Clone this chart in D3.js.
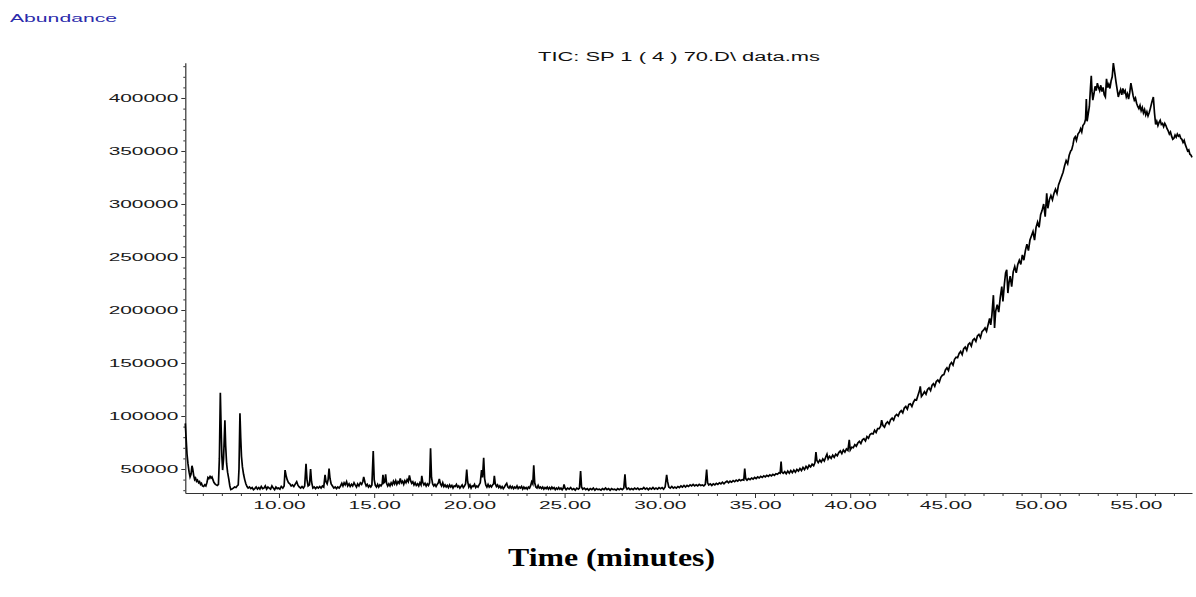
<!DOCTYPE html>
<html>
<head>
<meta charset="utf-8">
<script src="https://cdn.jsdelivr.net/npm/d3@7"></script>
<style>
  html, body { margin: 0; padding: 0; background: #fff; }
  svg { display: block; }
</style>
</head>
<body>
<svg id="chart" width="1196" height="597"></svg>
<script>
// ---------- DATA (time in minutes, abundance counts) ----------
const titleText = "TIC: SP 1 ( 4 ) 70.D\\ data.ms";
const yAxisTitle = "Abundance";
const xAxisTitle = "Time (minutes)";

const yMajorTicks = [50000, 100000, 150000, 200000, 250000, 300000, 350000, 400000];
const yMinorTicks = [30000, 40000, 60000, 70000, 80000, 90000, 110000, 120000, 130000, 140000,
  160000, 170000, 180000, 190000, 210000, 220000, 230000, 240000, 260000, 270000, 280000, 290000,
  310000, 320000, 330000, 340000, 360000, 370000, 380000, 390000, 410000, 420000, 430000];
const xMajorTicks = [10, 15, 20, 25, 30, 35, 40, 45, 50, 55];
const xMinorTicks = [6, 7, 8, 9, 11, 12, 13, 14, 16, 17, 18, 19, 21, 22, 23, 24, 26, 27, 28, 29,
  31, 32, 33, 34, 36, 37, 38, 39, 41, 42, 43, 44, 46, 47, 48, 49, 51, 52, 53, 54, 56, 57];

const earlySegment = [
  [5.08, 93000], [5.12, 80000], [5.17, 64000], [5.22, 55000], [5.28, 47000], [5.33, 42500],
  [5.38, 45000], [5.43, 53000], [5.47, 50000], [5.52, 44000], [5.57, 40000], [5.62, 41500],
  [5.67, 38500], [5.72, 39500], [5.78, 37000], [5.83, 38000], [5.88, 35500], [5.93, 36500],
  [5.98, 34000], [6.04, 33500], [6.10, 35000], [6.16, 34000], [6.22, 37500], [6.27, 42000],
  [6.32, 41000], [6.38, 43000], [6.43, 41500], [6.48, 42500], [6.53, 40000], [6.58, 37500],
  [6.64, 36000], [6.70, 35000], [6.76, 34500], [6.82, 35500], [6.87, 60000], [6.92, 122000],
  [6.96, 90000], [7.00, 62000], [7.04, 49000], [7.09, 60000], [7.16, 96000], [7.20, 72000],
  [7.25, 55000], [7.30, 47000], [7.36, 41000], [7.42, 34000], [7.47, 30500], [7.53, 31000],
  [7.60, 32000], [7.67, 33000], [7.74, 32500], [7.80, 34000], [7.86, 35000], [7.90, 50000],
  [7.95, 102500], [7.99, 80000], [8.03, 62000], [8.08, 52000], [8.14, 45000], [8.20, 40000],
  [8.26, 36000], [8.32, 33500], [8.38, 32000], [8.45, 33000], [8.52, 31500], [8.59, 32500],
  [8.66, 30500], [8.73, 31500], [8.80, 33000], [8.87, 31000], [8.94, 32500], [9.00, 31000],
  [9.07, 33500], [9.14, 31500], [9.21, 32000], [9.28, 34000], [9.35, 31000], [9.42, 33000],
  [9.49, 32000], [9.56, 31000], [9.63, 34000], [9.70, 32000], [9.77, 30500], [9.84, 33000],
  [9.91, 31500], [9.98, 32000], [10.05, 31000], [10.12, 33500], [10.20, 32000], [10.27, 34000],
  [10.32, 49000], [10.37, 44000], [10.43, 40000], [10.50, 37000], [10.57, 36000], [10.64, 34000],
  [10.71, 35000], [10.78, 33500], [10.86, 36000], [10.93, 38000], [11.00, 34500], [11.07, 33000],
  [11.14, 32000], [11.21, 33500], [11.28, 32000], [11.35, 34000], [11.42, 55000], [11.47, 40000],
  [11.53, 34000], [11.60, 35000], [11.66, 50000], [11.71, 38000], [11.78, 32000], [11.85, 33000],
  [11.92, 31500], [12.00, 33000]
];

const middleSegment = [
  [12.07, 32000], [12.14, 33500], [12.21, 32000], [12.28, 34000], [12.35, 33000], [12.42, 44500],
  [12.47, 38000], [12.53, 36000], [12.58, 40000], [12.63, 50500], [12.68, 41000], [12.74, 36000],
  [12.81, 34000], [12.88, 32000], [12.95, 33000], [13.02, 31500], [13.09, 33000], [13.16, 32000],
  [13.23, 34000], [13.30, 36500], [13.36, 34000], [13.42, 37000], [13.48, 35000], [13.55, 38000],
  [13.61, 34000], [13.68, 36000], [13.74, 33500], [13.81, 35500], [13.87, 34000], [13.94, 37000],
  [14.00, 35000], [14.07, 33000], [14.13, 36000], [14.20, 34000], [14.27, 37000], [14.34, 35500],
  [14.40, 38000], [14.45, 42500], [14.52, 37000], [14.58, 34000], [14.64, 35500], [14.70, 33000],
  [14.76, 34500], [14.82, 33000], [14.88, 35000], [14.95, 67000], [15.00, 40000], [15.06, 34500],
  [15.12, 33000], [15.18, 35500], [15.24, 33000], [15.30, 35000], [15.36, 34000], [15.42, 36000],
  [15.46, 44500], [15.51, 37000], [15.56, 38000], [15.60, 45000], [15.65, 36500], [15.71, 34000],
  [15.77, 36000], [15.83, 34000], [15.89, 37000], [15.95, 35000], [16.01, 38500], [16.07, 36000],
  [16.13, 39000], [16.19, 35500], [16.25, 38000], [16.31, 36500], [16.37, 41000], [16.43, 37000],
  [16.49, 38500], [16.55, 35500], [16.61, 39000], [16.67, 37000], [16.73, 40000], [16.79, 38000],
  [16.85, 44000], [16.91, 39000], [16.97, 36500], [17.03, 38000], [17.09, 35000], [17.15, 37000],
  [17.21, 34500], [17.28, 36000], [17.34, 34000], [17.40, 37000], [17.46, 35000], [17.50, 43500],
  [17.55, 37500], [17.61, 35000], [17.67, 36500], [17.73, 34000], [17.79, 36000], [17.85, 34500],
  [17.91, 37000], [17.96, 69500], [18.01, 42000], [18.07, 36000], [18.13, 34000], [18.19, 35500],
  [18.25, 33500], [18.31, 35500], [18.37, 37000], [18.42, 40500], [18.48, 36000], [18.54, 34000],
  [18.60, 37000], [18.66, 33500], [18.72, 35000], [18.78, 33000], [18.84, 34500], [18.90, 32500],
  [18.96, 35000], [19.02, 33000], [19.08, 34500], [19.14, 32000], [19.20, 34000], [19.26, 33500],
  [19.32, 35500], [19.38, 33000], [19.44, 34000], [19.50, 32000], [19.56, 33500], [19.62, 35000],
  [19.68, 32500], [19.74, 34000], [19.80, 36000], [19.86, 49500], [19.91, 38000], [19.97, 33000],
  [20.03, 35000], [20.09, 32000], [20.15, 34000], [20.21, 33500], [20.27, 35500], [20.33, 32500],
  [20.39, 34000], [20.45, 33000], [20.51, 35000], [20.57, 37000], [20.64, 49000], [20.69, 42000],
  [20.75, 60500], [20.80, 41000], [20.86, 35000], [20.92, 33000], [20.98, 35500], [21.04, 33000],
  [21.10, 34500], [21.16, 33000], [21.22, 35000], [21.27, 36000], [21.31, 43500], [21.36, 36000],
  [21.42, 33500], [21.48, 35000], [21.54, 32500], [21.60, 34000], [21.66, 32000], [21.72, 33500],
  [21.78, 31500], [21.84, 33000], [21.90, 35000], [21.96, 36500], [22.02, 33000], [22.08, 32000],
  [22.14, 34000], [22.20, 32000], [22.26, 33500], [22.32, 31500], [22.38, 33000], [22.44, 32000],
  [22.50, 34000], [22.56, 31500], [22.62, 33000], [22.68, 32000], [22.74, 33500], [22.80, 31000],
  [22.86, 33000], [22.92, 31500], [22.98, 32500], [23.04, 31000], [23.10, 33000], [23.16, 32000],
  [23.22, 34500], [23.27, 38000], [23.33, 36000], [23.38, 53500], [23.43, 37000], [23.49, 33000],
  [23.55, 32000], [23.61, 34500], [23.67, 32000], [23.73, 33000], [23.79, 31500], [23.85, 33000],
  [23.91, 31000], [23.97, 32500], [24.03, 31500], [24.09, 33000], [24.15, 31000], [24.21, 32500],
  [24.27, 31000], [24.33, 33000], [24.39, 31500], [24.45, 32500], [24.51, 30500], [24.57, 32000],
  [24.63, 31000], [24.69, 32500], [24.75, 31000], [24.81, 32000], [24.87, 30500], [24.93, 32000],
  [24.97, 35500], [25.02, 32000]
];

const flatSegment = [
  [25.08, 30500], [25.16, 32000], [25.24, 31000], [25.32, 32500], [25.40, 30500], [25.48, 31500],
  [25.56, 30000], [25.64, 32000], [25.72, 31000], [25.78, 32000], [25.84, 48000], [25.89, 33000],
  [25.95, 31000], [26.03, 32000], [26.11, 30500], [26.19, 31500], [26.27, 30000], [26.35, 31500],
  [26.43, 30500], [26.51, 32000], [26.59, 30000], [26.67, 31500], [26.75, 30500], [26.83, 31000],
  [26.91, 30000], [26.99, 31500], [27.07, 30500], [27.15, 32000], [27.23, 30500], [27.31, 31500],
  [27.39, 30000], [27.47, 31500], [27.55, 30500], [27.63, 31000], [27.71, 30000], [27.79, 31500],
  [27.87, 30500], [27.95, 31500], [28.03, 30500], [28.11, 32000], [28.17, 45000], [28.22, 33000],
  [28.28, 31000], [28.36, 32000], [28.44, 30500], [28.52, 31500], [28.60, 30500], [28.68, 32000],
  [28.76, 31000], [28.84, 32000], [28.92, 30500], [29.00, 31500], [29.08, 31000], [29.16, 32500],
  [29.24, 31000], [29.32, 32000], [29.40, 30500], [29.48, 32000], [29.56, 31000], [29.64, 32500],
  [29.72, 31000], [29.80, 32000], [29.88, 31000], [29.96, 32500], [30.04, 31500], [30.12, 32500],
  [30.20, 31000], [30.28, 33000], [30.36, 44500], [30.41, 38000], [30.47, 33000], [30.55, 32000],
  [30.63, 33500], [30.71, 32000], [30.79, 33000], [30.87, 32000], [30.95, 33500], [31.03, 32500],
  [31.11, 34000], [31.19, 33000], [31.27, 34500], [31.35, 33000], [31.43, 34500], [31.51, 33500],
  [31.59, 35000], [31.67, 34000], [31.75, 35500], [31.83, 34000], [31.91, 35000], [31.99, 34000],
  [32.07, 35500], [32.15, 34500], [32.23, 35000], [32.31, 34000], [32.39, 35500], [32.46, 49500],
  [32.51, 37000], [32.57, 35000], [32.65, 36000], [32.73, 34500], [32.81, 36000], [32.89, 35000],
  [32.97, 36500], [33.05, 35500], [33.13, 37000], [33.21, 36000], [33.29, 37500], [33.37, 36000],
  [33.45, 37500], [33.53, 38500], [33.61, 37000], [33.69, 38500], [33.77, 37500], [33.85, 39000],
  [33.93, 38000], [34.01, 39500], [34.09, 38500], [34.17, 40000], [34.25, 39000], [34.33, 40000],
  [34.41, 39500], [34.46, 50500], [34.51, 41000], [34.58, 39500], [34.66, 41000], [34.74, 40000],
  [34.82, 41500], [34.90, 40500], [34.98, 42000], [35.06, 41000], [35.14, 42500], [35.22, 41500],
  [35.30, 43000], [35.38, 42000], [35.46, 43500], [35.54, 42500], [35.62, 44000], [35.70, 43000],
  [35.78, 44500], [35.86, 43500], [35.94, 45000], [36.02, 44000], [36.10, 45500], [36.18, 45000],
  [36.26, 46500], [36.32, 46000], [36.37, 57000], [36.41, 47000], [36.48, 46000]
];

const risingSegment = [
  [36.56, 47500], [36.64, 45500], [36.72, 48000], [36.80, 46000], [36.88, 48500], [36.96, 46500],
  [37.04, 49000], [37.12, 47000], [37.20, 49500], [37.28, 48000], [37.36, 50500], [37.44, 48500],
  [37.52, 51500], [37.60, 49500], [37.68, 52500], [37.76, 50500], [37.84, 53500], [37.92, 52000],
  [38.00, 54500], [38.08, 53000], [38.15, 56000], [38.20, 66000], [38.25, 58000], [38.32, 56000],
  [38.40, 58500], [38.48, 56500], [38.56, 59500], [38.64, 57500], [38.72, 61500], [38.78, 64000],
  [38.84, 59500], [38.92, 62000], [39.00, 60000], [39.08, 63000], [39.16, 61000], [39.24, 64000],
  [39.32, 62500], [39.40, 65500], [39.48, 67000], [39.56, 64500], [39.64, 68000], [39.72, 66000],
  [39.80, 69000], [39.88, 67500], [39.95, 77500], [40.00, 68000], [40.08, 70500], [40.16, 70000],
  [40.24, 73000], [40.32, 71500], [40.40, 74500], [40.48, 76000], [40.56, 74000], [40.64, 77500],
  [40.72, 78500], [40.80, 76500], [40.88, 80500], [40.96, 79000], [41.04, 82500], [41.12, 83500],
  [41.20, 83000], [41.28, 86500], [41.36, 84500], [41.44, 88000], [41.52, 88000], [41.60, 90500],
  [41.65, 96000], [41.72, 91000], [41.80, 89500], [41.88, 93000], [41.96, 94500], [42.04, 92500],
  [42.12, 96500], [42.20, 98000], [42.28, 96000], [42.36, 100000], [42.44, 101500], [42.52, 100000],
  [42.60, 103500], [42.68, 105000], [42.76, 103000], [42.84, 107500], [42.92, 109000], [43.00, 106500],
  [43.08, 111000], [43.16, 111500], [43.24, 109000], [43.32, 113000], [43.40, 115500], [43.48, 115000],
  [43.56, 119500], [43.64, 124000], [43.68, 128000], [43.74, 118500], [43.82, 120500], [43.90, 123000],
  [43.98, 120500], [44.06, 125000], [44.14, 126500], [44.22, 124000], [44.30, 129000], [44.37, 130500],
  [44.44, 128000], [44.52, 132500], [44.60, 134000], [44.68, 132000], [44.76, 136500], [44.84, 138500],
  [44.92, 139000], [45.00, 143500], [45.08, 145500], [45.16, 143000], [45.24, 148500], [45.32, 150500],
  [45.40, 148000], [45.48, 153500], [45.56, 155500], [45.64, 155000], [45.72, 159000], [45.80, 161000],
  [45.88, 158000], [45.96, 163500], [46.04, 165000], [46.12, 162000], [46.20, 167500], [46.28, 169000],
  [46.36, 166000], [46.44, 171500], [46.52, 173000], [46.60, 170500], [46.68, 175500], [46.76, 177000],
  [46.84, 174000], [46.92, 179500], [47.00, 181000], [47.08, 183000], [47.16, 180000], [47.24, 186000],
  [47.32, 192000], [47.38, 186000], [47.44, 195000], [47.52, 214000], [47.58, 183000], [47.64, 199000],
  [47.72, 205000], [47.80, 198000], [47.88, 212000], [47.96, 222000], [48.02, 208000], [48.10, 225000],
  [48.16, 235000], [48.22, 238000], [48.28, 216000], [48.34, 226000], [48.40, 232000], [48.48, 222000],
  [48.56, 236000], [48.64, 241000], [48.72, 235000], [48.80, 243000], [48.88, 247000], [48.96, 243000],
  [49.04, 252000], [49.12, 247000], [49.20, 256000], [49.28, 262000], [49.36, 256000], [49.44, 266000],
  [49.52, 270000], [49.60, 274000], [49.68, 266000], [49.76, 278000], [49.84, 283000], [49.92, 278000],
  [50.00, 290000], [50.08, 294000], [50.16, 300000], [50.24, 288000], [50.32, 310000], [50.38, 296000],
  [50.46, 304000], [50.54, 308000], [50.62, 304000], [50.70, 310000], [50.78, 314000], [50.86, 310000],
  [50.94, 318000], [51.02, 322000]
];

const humpSegment = [
  [51.10, 326000], [51.18, 330000], [51.26, 336000], [51.34, 341000], [51.42, 338000], [51.50, 346000],
  [51.58, 350000], [51.63, 351000], [51.70, 356000], [51.76, 362000], [51.82, 363500], [51.88, 360000],
  [51.96, 366000], [52.04, 368000], [52.10, 371000], [52.16, 368000], [52.22, 374000], [52.30, 376000],
  [52.36, 380000], [52.40, 399000], [52.44, 378000], [52.50, 385000], [52.56, 392000], [52.62, 410000],
  [52.66, 421000], [52.70, 406000], [52.74, 398000], [52.80, 404000], [52.86, 411000], [52.92, 407000],
  [52.98, 414000], [53.04, 410000], [53.10, 407000], [53.16, 412000], [53.22, 406000], [53.28, 410000],
  [53.34, 403000], [53.40, 401000], [53.46, 418000], [53.52, 410000], [53.58, 413000], [53.64, 409000],
  [53.70, 416000], [53.76, 420000], [53.82, 433000], [53.86, 428000], [53.90, 423000], [53.96, 415000],
  [54.02, 408000], [54.08, 401000], [54.14, 405000], [54.20, 408000], [54.26, 403000], [54.32, 409000],
  [54.38, 405000], [54.44, 407000], [54.50, 401000], [54.56, 404000], [54.62, 399000], [54.68, 405000],
  [54.74, 414000], [54.80, 408000], [54.86, 402000], [54.92, 398000], [54.98, 400000], [55.04, 395000],
  [55.10, 392000], [55.16, 390000], [55.22, 393000], [55.28, 388000], [55.34, 391000], [55.40, 386000],
  [55.46, 389000], [55.52, 384000], [55.58, 387000], [55.64, 383000], [55.70, 386000], [55.76, 390000],
  [55.84, 396000], [55.92, 401000], [55.98, 386000], [56.04, 375000], [56.10, 378000], [56.16, 374000],
  [56.22, 377000], [56.28, 379000], [56.34, 375000], [56.40, 376000], [56.46, 373000], [56.52, 376000],
  [56.58, 374000], [56.64, 371000], [56.70, 369000], [56.76, 366000], [56.82, 368000], [56.88, 364000],
  [56.94, 361000], [57.00, 362000], [57.06, 365000], [57.12, 363000], [57.18, 366000], [57.24, 364000],
  [57.30, 365000], [57.36, 362000], [57.42, 361000], [57.48, 358000], [57.54, 360000], [57.60, 356000],
  [57.66, 353000], [57.72, 350000], [57.78, 351000], [57.84, 347000], [57.90, 346000], [57.95, 344000]
];

const series = [].concat(earlySegment, middleSegment, flatSegment, risingSegment, humpSegment);

// ---------- LAYOUT ----------
const plot = { left: 185.3, right: 1192, top: 62.7, bottom: 493 };
const TEXT_STRETCH = 1.9;

const svg = d3.select("#chart");

const x = d3.scaleLinear().domain([5.08, 57.95]).range([plot.left, plot.right]);
const y = d3.scaleLinear().domain([27360, 433300]).range([plot.bottom, plot.top]);

// Y axis: minor ticks
svg.append("g")
  .attr("transform", `translate(${plot.left},0)`)
  .call(d3.axisLeft(y).tickValues(yMinorTicks).tickSize(2).tickSizeOuter(0).tickFormat(""))
  .call(g => g.select(".domain").remove())
  .call(g => g.selectAll("line").attr("stroke", "#333"));

// Y axis: major ticks & labels
const yAxisG = svg.append("g")
  .attr("transform", `translate(${plot.left},0)`)
  .call(d3.axisLeft(y).tickValues(yMajorTicks).tickSize(4).tickSizeOuter(0).tickPadding(3)
    .tickFormat(d3.format("d")));
yAxisG.select(".domain").attr("stroke", "#333").attr("stroke-width", 1.2);
yAxisG.selectAll("line").attr("stroke", "#333");
yAxisG.selectAll("text")
  .attr("font-family", "'Liberation Sans', Arial, sans-serif")
  .attr("font-size", 11)
  .attr("fill", "#1a1a1a")
  .attr("x", -7 / TEXT_STRETCH)
  .attr("transform", `scale(${TEXT_STRETCH},1)`);

// X axis: minor ticks
svg.append("g")
  .attr("transform", `translate(0,${plot.bottom})`)
  .call(d3.axisBottom(x).tickValues(xMinorTicks).tickSize(3).tickSizeOuter(0).tickFormat(""))
  .call(g => g.select(".domain").remove())
  .call(g => g.selectAll("line").attr("stroke", "#333"));

// X axis: major ticks & labels
const xAxisG = svg.append("g")
  .attr("transform", `translate(0,${plot.bottom})`)
  .call(d3.axisBottom(x).tickValues(xMajorTicks).tickSize(5).tickSizeOuter(0).tickPadding(3)
    .tickFormat(d3.format(".2f")));
xAxisG.select(".domain").attr("stroke", "#333").attr("stroke-width", 1.2);
xAxisG.selectAll("line").attr("stroke", "#333");
xAxisG.selectAll("text")
  .attr("font-family", "'Liberation Sans', Arial, sans-serif")
  .attr("font-size", 11)
  .attr("fill", "#1a1a1a")
  .attr("transform", `scale(${TEXT_STRETCH},1)`);

// Trace
const line = d3.line().x(d => x(d[0])).y(d => y(d[1]));
svg.append("path")
  .datum(series)
  .attr("d", line)
  .attr("fill", "none")
  .attr("stroke", "#000")
  .attr("stroke-width", 1.7)
  .attr("stroke-linejoin", "miter");

// Texts
svg.append("text")
  .attr("x", 10).attr("y", 22)
  .attr("font-family", "'Liberation Sans', Arial, sans-serif")
  .attr("font-size", 11)
  .attr("fill", "#2b2bab")
  .attr("textLength", 107).attr("lengthAdjust", "spacingAndGlyphs")
  .text(yAxisTitle);

svg.append("text")
  .attr("x", 538).attr("y", 61)
  .attr("font-family", "'Liberation Sans', Arial, sans-serif")
  .attr("font-size", 12)
  .attr("fill", "#111")
  .attr("textLength", 282).attr("lengthAdjust", "spacingAndGlyphs")
  .text(titleText);

svg.append("text")
  .attr("x", 508).attr("y", 566)
  .attr("font-family", "'Liberation Serif', 'Times New Roman', serif")
  .attr("font-weight", "bold")
  .attr("font-size", 26)
  .attr("fill", "#000")
  .attr("textLength", 207).attr("lengthAdjust", "spacingAndGlyphs")
  .text(xAxisTitle);
</script>
</body>
</html>
